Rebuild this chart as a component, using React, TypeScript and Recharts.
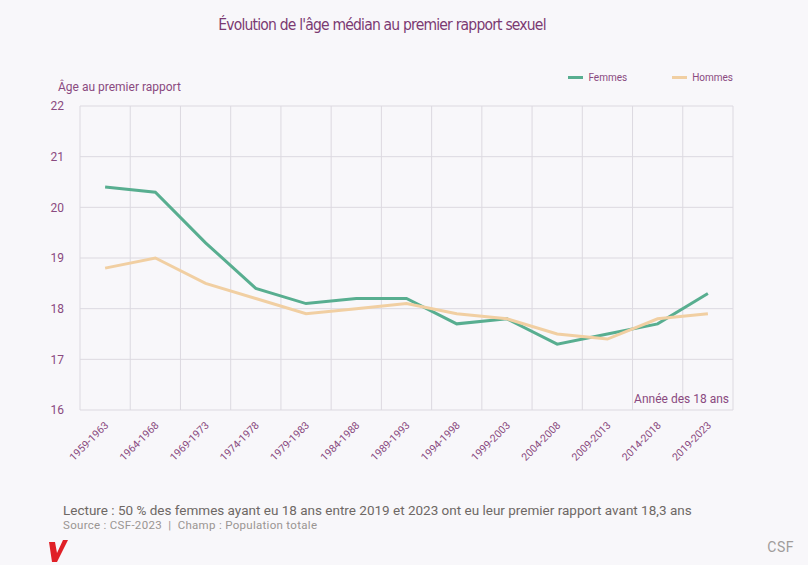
import React from "react";
import {
  LineChart,
  Line,
  XAxis,
  YAxis,
  CartesianGrid,
  Legend,
} from "recharts";

const periods = [
  "1959-1963",
  "1964-1968",
  "1969-1973",
  "1974-1978",
  "1979-1983",
  "1984-1988",
  "1989-1993",
  "1994-1998",
  "1999-2003",
  "2004-2008",
  "2009-2013",
  "2014-2018",
  "2019-2023",
];
const femmes = [20.4, 20.3, 19.3, 18.4, 18.1, 18.2, 18.2, 17.7, 17.8, 17.3, 17.5, 17.7, 18.3];
const hommes = [18.8, 19.0, 18.5, 18.2, 17.9, 18.0, 18.1, 17.9, 17.8, 17.5, 17.4, 17.8, 17.9];
const yTicks = [16, 17, 18, 19, 20, 21, 22];

const data = periods.map((p, i) => ({ period: p, Femmes: femmes[i], Hommes: hommes[i] }));

const PURPLE = "#8a4a80";
const GREEN = "#58ae90";
const BEIGE = "#f1cfa2";
const GRID = "#dcd9e0";
const BG = "#f8f7fa";
const FONT = "Roboto, 'Noto Sans', sans-serif";

const XTick = (props: any) => {
  const { x, y, payload } = props;
  return (
    <text
      transform={`translate(${x + 4}, ${y + 8}) rotate(-45)`}
      textAnchor="end"
      fontSize={10.5}
      fill={PURPLE}
      fontFamily={FONT}
    >
      {payload.value}
    </text>
  );
};

const LegendContent = (props: any) => {
  const { payload } = props;
  return (
    <div style={{ display: "flex", justifyContent: "flex-end", fontFamily: FONT, fontSize: 10, color: PURPLE }}>
      {payload.map((e: any) => (
        <div key={e.value} style={{ display: "flex", alignItems: "center", marginLeft: 45 }}>
          <span style={{ display: "inline-block", width: 15, height: 3, background: e.color, marginRight: 5 }} />
          <span>{e.value}</span>
        </div>
      ))}
    </div>
  );
};

export default function App() {
  return (
    <div style={{ position: "absolute", left: 0, top: 0, width: 808, height: 565, background: BG, overflow: "hidden" }}>
      <div
        style={{
          position: "absolute",
          left: 0,
          width: 764,
          top: 16,
          textAlign: "center",
          fontFamily: "'DejaVu Sans Condensed', " + FONT,
          fontSize: 15.5,
          color: "#7b3a72",
          letterSpacing: -0.8,
        }}
      >
        Évolution de l'âge médian au premier rapport sexuel
      </div>
      <div style={{ position: "absolute", left: 58, top: 80, fontFamily: FONT, fontSize: 12, color: PURPLE }}>
        Âge au premier rapport
      </div>
      <LineChart
        width={808}
        height={480}
        data={data}
        margin={{ top: 95, right: 75, bottom: 5, left: 0 }}
        style={{ position: "absolute", left: 0, top: 0 }}
      >
        <CartesianGrid
          stroke={GRID}
          verticalCoordinatesGenerator={({ offset }: any) =>
            periods.map((_, i) => offset.left + (i * offset.width) / periods.length).concat([offset.left + offset.width])
          }
        />
        <XAxis
          dataKey="period"
          scale="band"
          interval={0}
          tickLine={false}
          axisLine={false}
          tick={<XTick />}
          height={65}
        />
        <YAxis
          domain={[16, 22]}
          ticks={yTicks}
          width={80}
          tickLine={false}
          axisLine={false}
          tick={{ fill: PURPLE, fontSize: 12, fontFamily: FONT, dx: -8 }}
          interval={0}
        />
        <Legend
          verticalAlign="top"
          align="right"
          content={<LegendContent />}
          wrapperStyle={{ top: 72, right: 75, left: "auto", width: 300 }}
        />
        <Line type="linear" dataKey="Femmes" stroke={GREEN} strokeWidth={3} dot={false} isAnimationActive={false} />
        <Line type="linear" dataKey="Hommes" stroke={BEIGE} strokeWidth={3} dot={false} isAnimationActive={false} />
      </LineChart>
      <div style={{ position: "absolute", right: 79, top: 392, fontFamily: FONT, fontSize: 12, color: PURPLE }}>
        Année des 18 ans
      </div>
      <div style={{ position: "absolute", left: 63, top: 502, fontFamily: FONT, fontSize: 13.5, color: "#6e6865" }}>
        Lecture : 50 % des femmes ayant eu 18 ans entre 2019 et 2023 ont eu leur premier rapport avant 18,3 ans
      </div>
      <div style={{ position: "absolute", left: 63, top: 518, fontFamily: FONT, fontSize: 11.5, color: "#9a9592", letterSpacing: 0.3 }}>
        Source : CSF-2023&nbsp;&nbsp;|&nbsp;&nbsp;Champ : Population totale
      </div>
      <svg style={{ position: "absolute", left: 48, top: 540 }} width={20} height={22}>
        <polygon points="1,2 7,2 9,13 15,0 20,0 9,22 4,22" fill="#e02027" />
      </svg>
      <div style={{ position: "absolute", right: 14, top: 539, fontFamily: FONT, fontSize: 14, color: "#a09c9a", letterSpacing: 0.5 }}>
        CSF
      </div>
    </div>
  );
}
